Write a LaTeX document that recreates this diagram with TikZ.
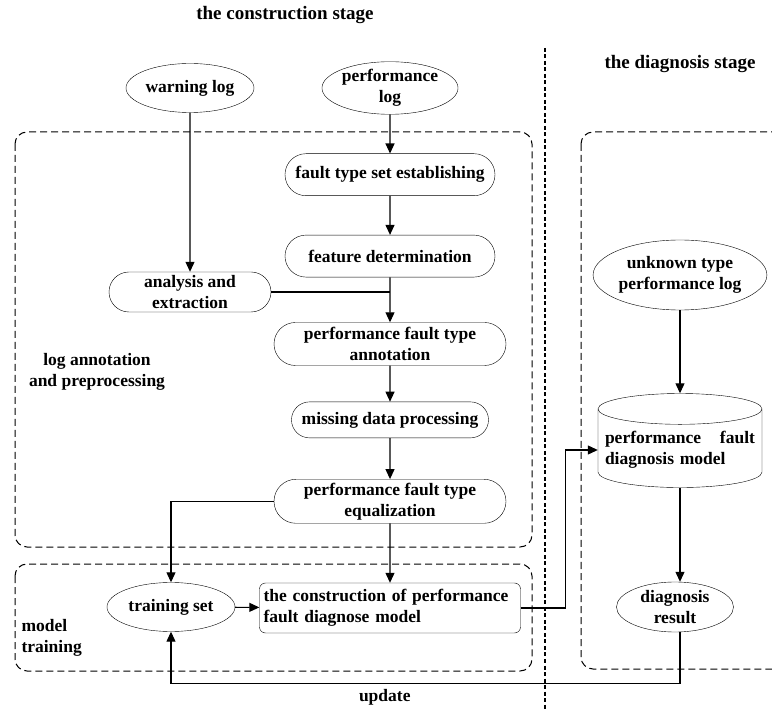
\documentclass[tikz,border=0pt]{standalone}
\usepackage{fontspec}
\setmainfont{Liberation Serif}
\usetikzlibrary{arrows.meta, positioning, shapes.geometric, shapes.misc}
\tikzset{
  stage/.style={font=\fontsize{19}{22}\selectfont\bfseries, align=center},
  source/.style={ellipse, draw, thin, minimum width=128pt, minimum height=49pt, inner sep=0pt, align=center, font=\fontsize{17.5}{21}\selectfont\bfseries},
  stepbox/.style={rounded rectangle, draw, thin, minimum width=212pt, minimum height=42pt, inner sep=1pt, align=center, font=\fontsize{17.5}{21}\selectfont\bfseries},
  modelbox/.style={rectangle, rounded corners=6pt, draw, thin, minimum width=261pt, minimum height=50pt, text width=253pt, inner xsep=4pt, align=left, font=\fontsize{17.5}{21}\selectfont\bfseries},
  store/.style={cylinder, shape border rotate=90, aspect=0.2, draw, thin, minimum width=164pt, minimum height=94pt, text width=150pt, inner xsep=2pt, align=left, font=\fontsize{17.5}{21}\selectfont\bfseries},
  note/.style={font=\fontsize{17.5}{21}\selectfont\bfseries},
  phase/.style={draw, line width=1pt, dash pattern=on 7pt off 4pt, rounded corners=12pt},
  split/.style={draw, line width=1.2pt, dash pattern=on 4pt off 2.5pt},
  flow/.style={-{Triangle[length=10pt, width=9pt]}, line width=1.1pt},
  link/.style={line width=1.1pt},
}
\begin{document}
\begin{tikzpicture}[x=1pt, y=-1pt, node distance=40pt]
  \clip (0,0) rectangle (772,711);

  % stages and regions
  \node[stage] (buildstage) at (285,15) {the construction stage};
  \node[stage] (diagstage) at (680,64) {the diagnosis stage};
  \draw[split] (545,48) -- (545,711);
  \draw[phase] (15,132) rectangle (532,547);
  \draw[phase] (15,564) rectangle (532,671);
  \draw[phase] (581,132) rectangle (800,669);
  \node[note, align=center] (preplabel) at (97,372) {log annotation\\and preprocessing};
  \node[note, align=left, anchor=west] (trainlabel) at (18,638) {model\\training};

  % construction column
  \node[source] (warnlog) at (190,88) {warning log};
  \node[source] (perflog) at (390,88) {performance\\log};
  \node[stepbox, below=39pt of perflog] (faultset) {fault type set establishing};
  \node[stepbox, below=39pt of faultset] (feature) {feature determination};
  \node[stepbox, minimum width=164pt, minimum height=40pt] (analysis) at (190,292) {analysis and\\extraction};
  \node[stepbox, below=45pt of feature, minimum width=234pt, minimum height=43pt] (annotate) {performance fault type\\annotation};
  \node[stepbox, below=36pt of annotate, minimum width=199pt, minimum height=36pt] (missing) {missing data processing};
  \node[stepbox, below=41pt of missing, minimum width=234pt, minimum height=44pt] (equalize) {performance fault type\\equalization};
  \node[source, minimum width=128pt] (trainset) at (171,607) {training set};
  \node[modelbox] (construct) at (390,608) {the construction of performance\\fault diagnose model};

  % diagnosis column
  \node[source, minimum width=164pt, minimum height=70pt] (unknown) at (680,275) {unknown type\\performance log};
  \node[store] (diagmodel) at (680,450) {performance\hfill fault\\diagnosis model};
  \node[source, minimum width=117pt, minimum height=50pt] (result) at (675,607) {diagnosis\\result};

  % connectors
  \draw[flow] (perflog) -- (faultset);
  \draw[flow] (faultset) -- (feature);
  \draw[flow] (feature) -- (annotate);
  \draw[flow] (warnlog.south -| analysis.north) -- (analysis);
  \draw[link] (analysis.east) -- (analysis.east -| feature.south);
  \draw[flow] (annotate) -- (missing);
  \draw[flow] (missing) -- (equalize);
  \draw[flow] (equalize) -- (construct);
  \draw[flow] (equalize.west) -| (trainset.north);
  \draw[flow] (trainset) -- (construct);
  \draw[flow] (construct.east) -- ++(45,0) |- (diagmodel.west);
  \draw[flow] (unknown) -- (diagmodel.top);
  \draw[flow] (diagmodel.bottom) -- (diagmodel.bottom |- result.north);
  \draw[flow] (result.south -| diagmodel.bottom) -- ++(0,51) -| node[note, pos=0.29, below=2pt] (updatelabel) {update} (trainset.south);
\end{tikzpicture}
\end{document}
